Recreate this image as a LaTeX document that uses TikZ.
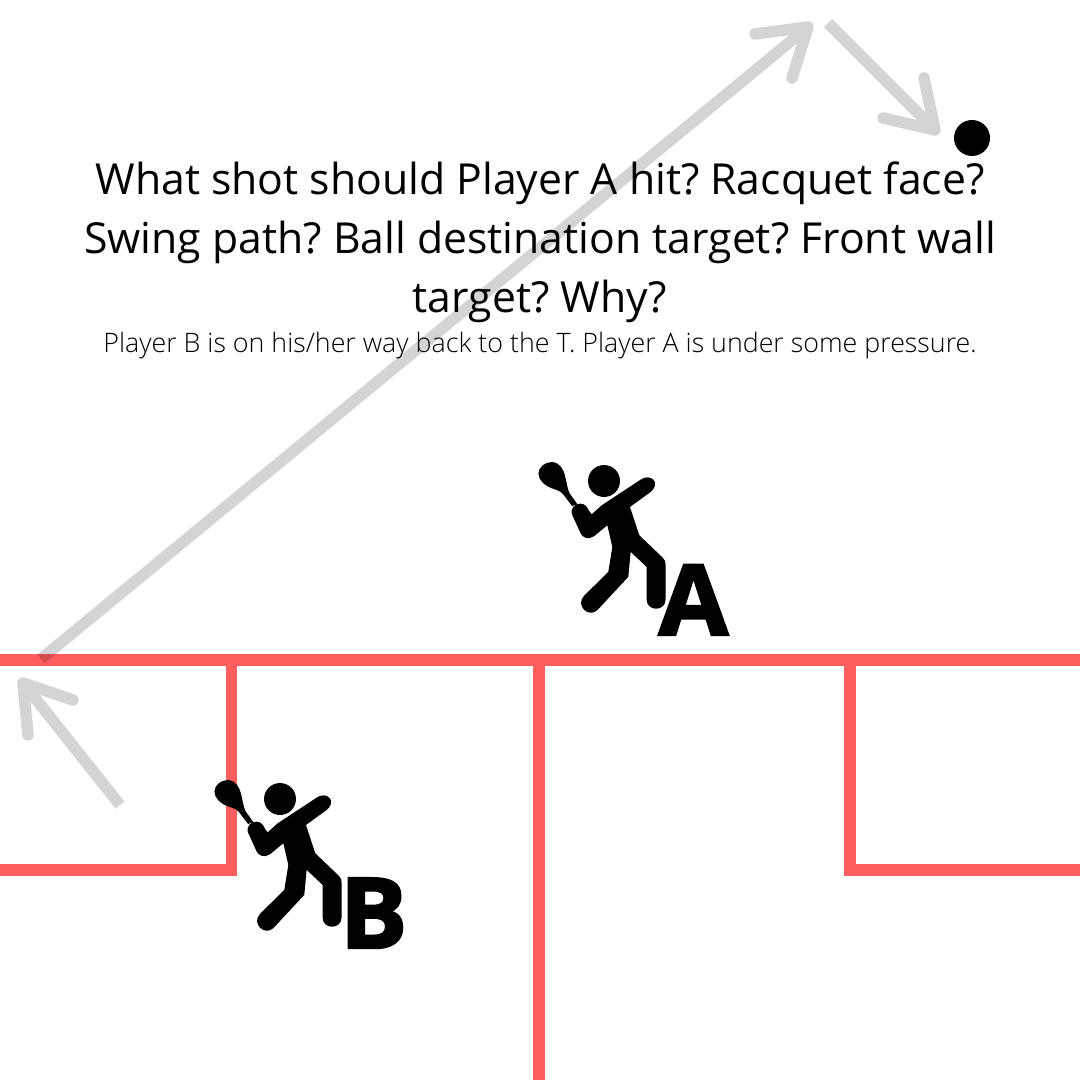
\documentclass[tikz,border=0pt]{standalone}
\usepackage{fontspec}
\setmainfont{Open Sans}
\newfontfamily\lightfont{Open Sans Light}
\newfontfamily\heavyfont[BoldFeatures={FakeBold=2.5,FakeStretch=1.03}]{Open Sans}
\definecolor{courtred}{HTML}{FF5E5E}
\frenchspacing
\tikzset{
    courtline/.style={draw=courtred, line width=.114cm},
    shaft/.style={draw=black, line width=.115cm},
    barb/.style={shaft, line cap=round, line join=round},
    question/.style={anchor=base, inner sep=0pt, font=\fontsize{12.15}{16}\selectfont},
    letter/.style={anchor=base west, inner sep=0pt, font=\heavyfont\bfseries\fontsize{27.8}{30}\selectfont},
    player/.pic={
        \begin{scope}[x=.00333cm, y=-.00333cm, shift={(-252,-92)}]
            \fill (252,92) circle (48);
            \fill (362,88) .. controls (392,66) and (428,100) .. (388,128) -- (330,170) -- (358,255) -- (428,322) .. controls (434,328) and (437,333) .. (437,345) -- (437,448) .. controls (437,485) and (380,485) .. (380,448) -- (380,350) -- (332,305) -- (325,380) -- (232,480) .. controls (205,505) and (165,465) .. (192,437) -- (265,365) -- (277,290) -- (262,225) -- (222,258) .. controls (205,270) and (188,262) .. (182,250) -- (157,195) .. controls (148,175) and (165,160) .. (180,160) .. controls (195,160) and (202,170) .. (207,182) -- (215,192) -- (245,165) -- cycle;
            \fill (172,162) -- (148,128) .. controls (140,110) and (138,80) .. (130,62) .. controls (120,40) and (105,35) .. (95,35) .. controls (75,35) and (55,50) .. (55,70) .. controls (55,90) and (75,107) .. (95,114) .. controls (110,119) and (122,122) .. (131,134) -- (156,167) -- cycle;
        \end{scope}
    }
}
\begin{document}
\begin{tikzpicture}[x=.01cm, y=-.01cm]
    \useasboundingbox (0,0) rectangle (1080,1080);

    % court
    \coordinate (LeftIn) at (0,660);
    \coordinate (RightIn) at (1080,660);
    \coordinate (LeftT) at (231.5,660);
    \coordinate (MidT) at (539,660);
    \coordinate (RightT) at (850,660);
    \coordinate (LeftBox) at (231.5,870);
    \coordinate (RightBox) at (850,870);
    \coordinate (LeftOut) at (0,870);
    \coordinate (RightOut) at (1080,870);
    \coordinate (MidOut) at (539,1080);
    \coordinate (RightStub) at (844,870);
    \draw [courtline] (LeftIn) -- (RightIn);
    \draw [courtline] (LeftT) -- (LeftBox) -- (LeftOut);
    \draw [courtline] (MidT) -- (MidOut);
    \draw [courtline] (RightT) -- (RightBox);
    \draw [courtline] (RightStub) -- (RightOut);

    % ball path
    \coordinate (S1) at (120,805);
    \coordinate (W1) at (23,683);
    \coordinate (W1a) at (28,735);
    \coordinate (W1b) at (73,700);
    \coordinate (S2) at (41,659);
    \coordinate (W2) at (808,27);
    \coordinate (W2a) at (755,34);
    \coordinate (W2b) at (792,78);
    \coordinate (S3) at (828,23);
    \coordinate (W3) at (935,130);
    \coordinate (W3a) at (924,78);
    \coordinate (W3b) at (883,118);
    \begin{scope}[transparency group, opacity=.17]
        \draw [shaft] (S1) -- (W1);
        \draw [barb] (W1a) -- (W1) -- (W1b);
        \draw [shaft] (S2) -- (W2);
        \draw [barb] (W2a) -- (W2) -- (W2b);
        \draw [shaft] (S3) -- (W3);
        \draw [barb] (W3a) -- (W3) -- (W3b);
    \end{scope}

    \node [circle, fill=black, inner sep=0pt, minimum size=.36cm] (Ball) at (972,138) {};

    % players
    \pic (PlayerA) at (604,481) {player};
    \pic (PlayerB) at (280,799) {player};
    \node [letter] (LetterA) at (658,635) {A};
    \node [letter] (LetterB) at (339,948) {B};

    % text
    \node [question] (Line1) at (540,195) {What shot should Player A hit? Racquet face?};
    \node [question] (Line2) at (540,254) {Swing path? Ball destination target? Front wall};
    \node [question] (Line3) at (540,313) {target? Why?};
    \node [question, font=\lightfont\fontsize{7.62}{9}\selectfont] (Note) at (540,353) {Player B is on his/her way back to the T. Player A is under some pressure.};
\end{tikzpicture}
\end{document}
